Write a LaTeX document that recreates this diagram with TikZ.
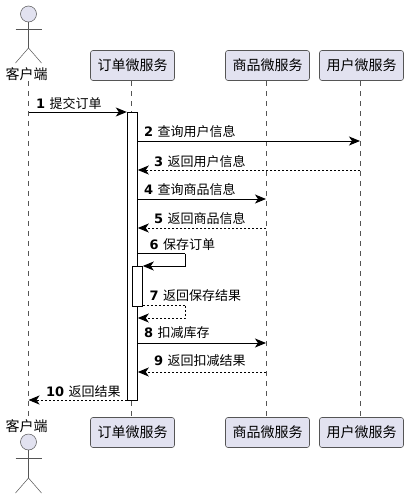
\documentclass[tikz,border=0pt]{standalone}
\usepackage{fontspec}
\setmainfont{DejaVu Sans}
\newfontfamily\cjk{Noto Sans CJK SC}
\usetikzlibrary{arrows.meta}
\definecolor{boxfill}{HTML}{E2E2F0}
\definecolor{ink}{HTML}{555555}
\tikzset{
  lifeline/.style={draw=ink,line width=0.5pt,dash pattern=on 5pt off 5pt},
  partbox/.style={draw=ink,line width=0.6pt,fill=boxfill,rounded corners=2.5pt,minimum width=84pt,minimum height=30pt,inner sep=0pt,font=\fontsize{14}{14}\cjk},
  actorline/.style={draw=ink,line width=0.5pt},
  actorhead/.style={circle,draw=ink,line width=0.5pt,fill=boxfill,minimum size=16pt,inner sep=0pt},
  actorlabel/.style={inner sep=0pt,font=\fontsize{14}{14}\cjk},
  activation/.style={draw=black,line width=1pt,fill=white,minimum width=10pt,inner sep=0pt},
  msg/.style={draw=black,line width=1pt,-{Stealth[length=11pt,width=9pt,inset=3pt]}},
  ret/.style={msg,dash pattern=on 2pt off 2pt},
  msgline/.style={draw=black,line width=1pt},
  retline/.style={msgline,dash pattern=on 2pt off 2pt},
  msglabel/.style={anchor=base west,inner sep=0pt,font=\fontsize{13}{13}\cjk},
}
\newcommand{\num}[1]{{\fontsize{13}{13}\selectfont\fontspec{DejaVu Sans Bold}#1}\,\,}
\begin{document}
\begin{tikzpicture}[x=1pt,y=-1pt]
\useasboundingbox (0,0) rectangle (408,498);
\fill[white] (0,0) rectangle (408,498);
% lifeline anchors
\coordinate (client) at (28.5,0);
\coordinate (order) at (131.5,0);
\coordinate (product) at (266,0);
\coordinate (user) at (360,0);
\coordinate (selfa) at (185,0);
% lifelines
\draw[lifeline] (client |- 0,81) -- (client |- 0,417);
\draw[lifeline] (order |- 0,81) -- (order |- 0,417);
\draw[lifeline] (product |- 0,81) -- (product |- 0,417);
\draw[lifeline] (user |- 0,81) -- (user |- 0,417);
% participant boxes
\node[partbox] (ordertop) at (132.5,65.5) {订单微服务};
\node[partbox] (producttop) at (267.5,65.5) {商品微服务};
\node[partbox] (usertop) at (361.5,65.5) {用户微服务};
\node[partbox] (orderbot) at (132.5,432.5) {订单微服务};
\node[partbox] (productbot) at (267.5,432.5) {商品微服务};
\node[partbox] (userbot) at (361.5,432.5) {用户微服务};
% top actor
\node[actorhead] (headtop) at (28.5,14) {};
\coordinate (hiptop) at (28.5,48);
\coordinate (armLtop) at (15.5,29);
\coordinate (armRtop) at (41.5,29);
\coordinate (legLtop) at (15.5,63);
\coordinate (legRtop) at (41.5,63);
\draw[actorline] (headtop) -- (hiptop);
\draw[actorline] (armLtop) -- (armRtop);
\draw[actorline] (legLtop) -- (hiptop) -- (legRtop);
\node[actorlabel] (labeltop) at (26.5,74) {客户端};
% bottom actor
\node[actorlabel] (labelbot) at (26.5,426.5) {客户端};
\node[actorhead] (headbot) at (28.5,442) {};
\coordinate (hipbot) at (28.5,478);
\coordinate (armLbot) at (15.5,458);
\coordinate (armRbot) at (41.5,458);
\coordinate (legLbot) at (15.5,493);
\coordinate (legRbot) at (41.5,493);
\draw[actorline] (headbot) -- (hipbot);
\draw[actorline] (armLbot) -- (armRbot);
\draw[actorline] (legLbot) -- (hipbot) -- (legRbot);
% activations
\node[activation,minimum height=288pt] (act) at (132.3,256) {};
\node[activation,minimum height=40pt] (inner) at (137.3,286) {};
% messages
\draw[msg] (client |- 0,112) -- (act.west |- 0,112);
\node[msglabel] (l1) at (36,108) {\num{1}提交订单};
\draw[msg] (act.east |- 0,141) -- (user |- 0,141);
\node[msglabel] (l2) at (144,136) {\num{2}查询用户信息};
\draw[ret] (user |- 0,170) -- (act.east |- 0,170);
\node[msglabel] (l3) at (154,166) {\num{3}返回用户信息};
\draw[msg] (act.east |- 0,199) -- (product |- 0,199);
\node[msglabel] (l4) at (144,194) {\num{4}查询商品信息};
\draw[ret] (product |- 0,228) -- (act.east |- 0,228);
\node[msglabel] (l5) at (154,223.5) {\num{5}返回商品信息};
\draw[msgline] (act.east |- 0,253.5) -- (selfa |- 0,253.5);
\draw[msg] (selfa |- 0,253.5) -- (selfa |- 0,266) -- (inner.east |- 0,266);
\node[msglabel] (l6) at (149.5,249) {\num{6}保存订单};
\draw[retline] (inner.east |- 0,305.5) -- (selfa |- 0,305.5);
\draw[ret] (selfa |- 0,305.5) -- (selfa |- 0,318) -- (act.east |- 0,318);
\node[msglabel] (l7) at (149.5,300) {\num{7}返回保存结果};
\draw[msg] (act.east |- 0,343) -- (product |- 0,343);
\node[msglabel] (l8) at (144,337) {\num{8}扣减库存};
\draw[ret] (product |- 0,372) -- (act.east |- 0,372);
\node[msglabel] (l9) at (154,365.5) {\num{9}返回扣减结果};
\draw[ret] (act.west |- 0,400) -- (client |- 0,400);
\node[msglabel] (l10) at (46,396) {\num{10}返回结果};
\end{tikzpicture}
\end{document}
